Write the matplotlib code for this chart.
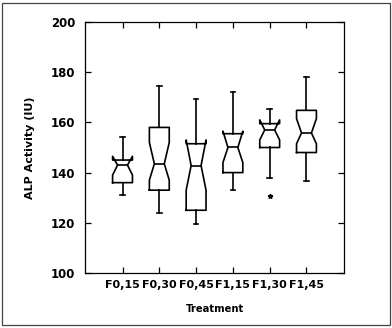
import matplotlib
matplotlib.use("Agg")
import matplotlib.pyplot as plt
from matplotlib.patches import Rectangle

categories = ["F0,15", "F0,30", "F0,45", "F1,15", "F1,30", "F1,45"]
whislo = [131, 124, 119.5, 133, 138, 136.5]
q1 = [136, 133, 125, 140, 150, 148]
cilo = [139, 137, 133, 144, 153, 151.5]
med = [143, 143.5, 142.8, 150, 157, 155.8]
cihi = [146.5, 152, 153, 156.5, 161, 161.5]
q3 = [145, 158, 151.5, 155.5, 159.5, 164.8]
whishi = [154.3, 174.5, 169.2, 172.3, 165.3, 178.2]
fliers = [[], [], [], [], [130.5], []]

fig = plt.figure(figsize=(3.92, 3.28), dpi=100)
ax = fig.add_axes([85/392, 1 - 273/328, (344-85)/392, (273-22)/328])

stats = []
for i in range(len(categories)):
    stats.append(dict(label=categories[i], whislo=whislo[i], q1=q1[i], med=med[i],
                      q3=q3[i], whishi=whishi[i], cilo=cilo[i], cihi=cihi[i],
                      fliers=fliers[i]))

lw = 1.2
ax.bxp(stats, positions=range(1, 7), widths=0.54, shownotches=True,
       capwidths=0.12,
       boxprops=dict(color="black", linewidth=lw),
       medianprops=dict(color="black", linewidth=lw),
       whiskerprops=dict(color="black", linewidth=lw),
       capprops=dict(color="black", linewidth=lw),
       flierprops=dict(marker="*", markersize=3.5, markerfacecolor="black",
                       markeredgecolor="black", linestyle="none"))

ax.set_xlim(-0.02, 7.02)
ax.set_ylim(100, 200)
ax.set_yticks([100, 120, 140, 160, 180, 200])
ax.set_xticks(range(1, 7))
ax.set_xticklabels(categories)
ax.tick_params(direction="in", length=4, width=0.9, top=True, right=True,
               labelsize=8)
ax.tick_params(axis="y", labelsize=8.5, pad=7)
ax.tick_params(axis="x", pad=5)
for lab in ax.get_xticklabels() + ax.get_yticklabels():
    lab.set_fontweight("bold")
for s in ax.spines.values():
    s.set_linewidth(0.9)
ax.set_xlabel("Treatment", fontsize=7.2, fontweight="bold", labelpad=10)
ax.set_ylabel("ALP Activity (IU)", fontsize=8, fontweight="bold", labelpad=11)

fig.patches.append(Rectangle((2/392, 3/328), 388/392, 322/328, transform=fig.transFigure,
                             fill=False, edgecolor="#444444", linewidth=0.9))

fig.savefig("out.png", dpi=100)
